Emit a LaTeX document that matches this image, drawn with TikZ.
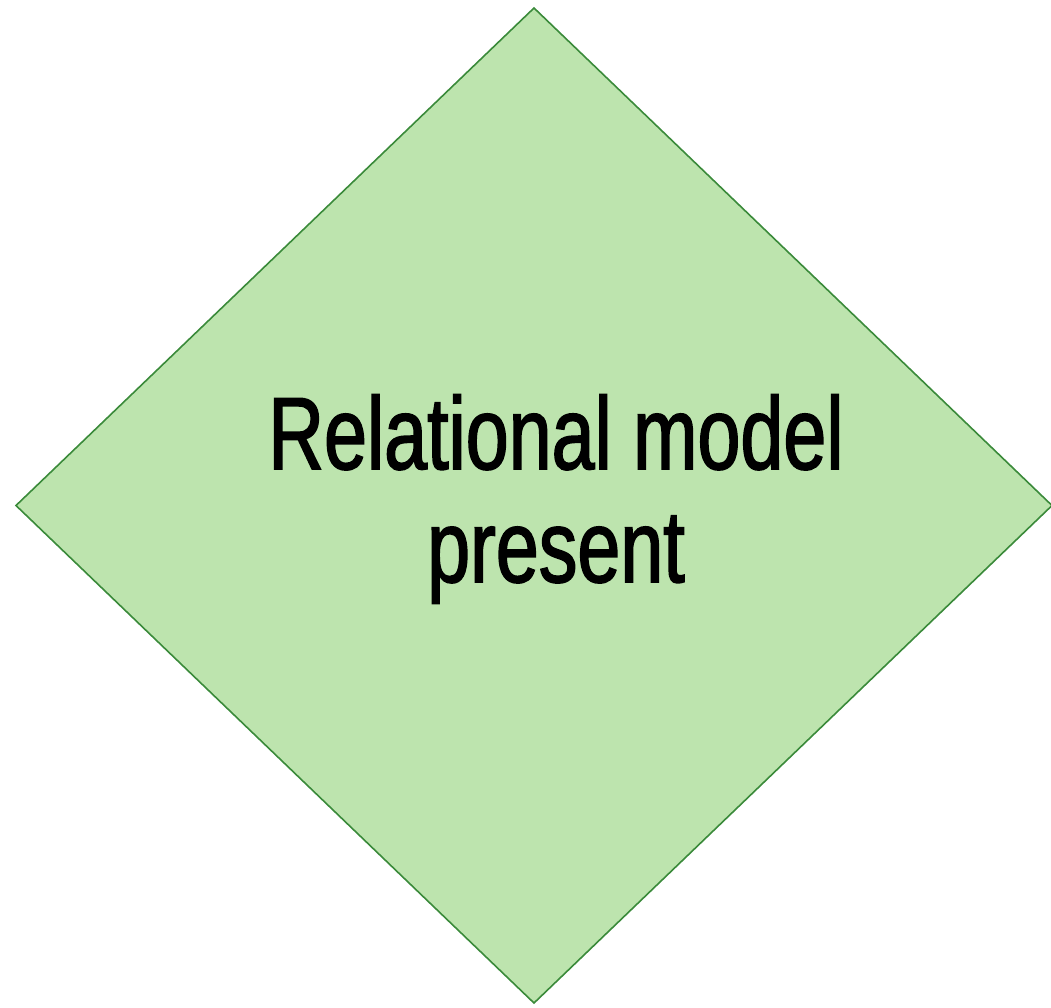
\documentclass[tikz,border=0pt]{standalone}
\usepackage{fontspec}
\newfontfamily\condfont{Liberation Sans}[FakeStretch=0.75, FakeBold=1.5]
\usetikzlibrary{positioning, shapes.geometric}
\definecolor{decfill}{HTML}{BDE4AE}
\definecolor{decdraw}{HTML}{3A8A3A}
\tikzset{
  decision/.style={
    diamond, draw=decdraw, fill=decfill,
    line width=1.6pt, inner sep=0pt, outer sep=0pt,
    minimum width=1036pt, minimum height=995pt
  },
  decisiontext/.style={
    align=center, inner sep=0pt,
    font=\condfont\fontsize{103}{113}\selectfont
  }
}

\begin{document}
\begin{tikzpicture}[x=1pt, y=-1pt]
\useasboundingbox (0,0) rectangle (1051,1007);

% ==============================================================================
% Decision
% ==============================================================================
\node[decision] (relmodel) at (534,505.5) {};

\node[decisiontext] (relmodeltext) at (556,499) {
  Relational model\\
  present
};

\end{tikzpicture}
\end{document}
